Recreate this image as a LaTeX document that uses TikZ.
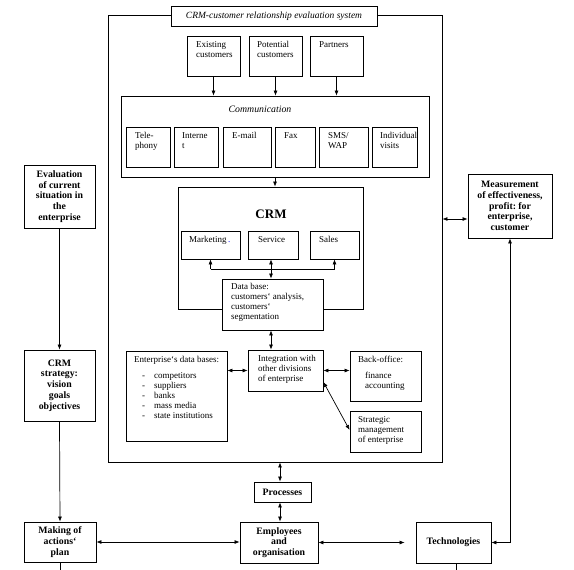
\documentclass[tikz,border=0pt]{standalone}
\usepackage{fontspec}
\setmainfont{Liberation Serif}
\usetikzlibrary{arrows.meta,fit,calc}
\frenchspacing
\begin{document}
\begin{tikzpicture}[x=1pt,y=-1pt,
  box/.style={draw, line width=0.8pt, inner sep=0pt, fill=white},
  cbox/.style n args={2}{draw, line width=0.8pt, inner sep=0pt, fill=white, minimum width=#1, minimum height=#2, anchor=center},
  txt/.style={inner sep=0pt, anchor=north west, align=left, font=\fontsize{9}{10}\selectfont},
  btxt/.style={align=center, font=\bfseries\fontsize{9.8}{10.8}\selectfont},
  arr/.style={line width=0.7pt, -{Latex[length=5pt,width=4pt]}},
  darr/.style={line width=0.7pt, {Latex[length=5pt,width=4pt]}-{Latex[length=5pt,width=4pt]}},
]
\useasboundingbox (0,0) rectangle (574,570);

% outer system box and title
\node[draw, line width=0.9pt, inner sep=0pt, fit={(108,15) (442,462)}] (outer) {};
\node[cbox={206pt}{20pt}, font=\itshape\fontsize{9.5}{11}\selectfont] (title) at (274,16) {CRM-customer relationship evaluation system};

% customers
\node[box, fit={(187,36) (240,76)}] (ex) {};
\node[txt] (ext) at (196,41) {Existing\\customers};
\node[box, fit={(249,36) (302,76)}] (pot) {};
\node[txt] (pott) at (257,41) {Potential\\customers};
\node[box, fit={(310,36) (363,76)}] (part) {};
\node[txt] (partt) at (319,41) {Partners};

% communication
\node[box, fit={(121,96) (429,177)}] (comm) {};
\node[font=\itshape\fontsize{9.8}{11}\selectfont] (commlbl) at (260,109) {Communication};
\node[box, fit={(126,127) (170,167)}] (tel) {};
\node[txt] (telt) at (135,132) {Tele-\\phony};
\node[box, fit={(174,127) (218,167)}] (inet) {};
\node[txt] (inett) at (182,132) {Interne\\t};
\node[box, fit={(223,127) (271,167)}] (mail) {};
\node[txt] (mailt) at (232,132) {E-mail};
\node[box, fit={(275,127) (315,167)}] (fax) {};
\node[txt] (faxt) at (284,132) {Fax};
\node[box, fit={(319,127) (368,167)}] (sms) {};
\node[txt] (smst) at (328,132) {SMS/\\WAP};
\node[box, fit={(372,127) (417,167)}] (vis) {};
\node[txt] (vist) at (380,132) {Individual\\visits};

% CRM
\node[box, fit={(178,187) (363,309)}] (crm) {};
\node[font=\bfseries\fontsize{13}{15}\selectfont] (crmlbl) at (271,214) {CRM};
\node[box, fit={(181,231) (240,259)}] (mkt) {};
\node[txt] (mktt) at (189,236) {Marketing\,\textcolor{blue}{.}};
\node[box, fit={(248,231) (298,259)}] (serv) {};
\node[txt] (servt) at (258,236) {Service};
\node[box, fit={(310,231) (359,259)}] (sales) {};
\node[txt] (salest) at (319,236) {Sales};
\node[box, fit={(222,279) (323,330)}] (db) {};
\node[txt] (dbt) at (231,283) {Data base:\\customers‘ analysis,\\customers‘\\segmentation};

% lower inner boxes
\node[box, fit={(126,351) (227,441)}] (entdb) {};
\node[txt] (entdbt) at (134,356) {Enterprise‘s data bases:};
\node[txt] (entdbl) at (142,371) {\begin{tabular}{@{}l@{\hspace{9pt}}l@{}}
-&competitors\\ -&suppliers\\ -&banks\\ -&mass media\\ -&state institutions\end{tabular}};
\node[box, fit={(248,350) (323,391)}] (integ) {};
\node[txt] (integt) at (258,355) {Integration with\\other divisions\\of enterprise};
\node[box, fit={(350,351) (421,401)}] (back) {};
\node[txt] (backt) at (358,356) {Back-office:};
\node[txt] (backl) at (365,372) {finance\\accounting};
\node[box, fit={(350,411) (421,452)}] (strat) {};
\node[txt] (stratt) at (358,416) {Strategic\\management\\of enterprise};

% outside boxes
\node[cbox={71pt}{63pt}, btxt] (eval) at (59.5,196.5) {Evaluation\\of current\\situation in\\the\\enterprise};
\node[cbox={71pt}{71pt}, btxt] (cstrat) at (59.5,385.5) {CRM\\strategy:\\vision\\goals\\objectives};
\node[cbox={84pt}{64pt}, btxt] (meas) at (510,206) {Measurement\\of effectiveness,\\profit: for\\enterprise,\\customer};
\node[cbox={57pt}{20pt}, btxt] (proc) at (282.5,492) {Processes};
\node[cbox={72pt}{40pt}, btxt] (making) at (60,542) {Making of\\actions‘\\plan};
\node[cbox={78pt}{41pt}, btxt] (emp) at (279,542.5) {Employees\\and\\organisation};
\node[cbox={75pt}{41pt}, btxt] (tech) at (453.5,542.5) {Technologies};

% connectors
\draw[arr] (ex.south) -- (ex.south |- comm.north);
\draw[arr] (pot.south) -- (pot.south |- comm.north);
\draw[arr] (part.south) -- (part.south |- comm.north);
\draw[arr] (comm.south) -- (comm.south |- crm.north);

\coordinate (jn) at (271,269);
\draw[darr] (db.north -| jn) -- (serv.south -| jn);
\draw[line width=0.7pt] (jn -| mkt.south) -- (jn -| sales.south);
\draw[arr] (jn -| mkt.south) -- (mkt.south);
\draw[arr] (jn -| sales.south) -- (sales.south);

\draw[darr] (db.south -| jn) -- (integ.north -| jn);
\draw[darr] (integ.west -| entdb.east) -- (integ.west);
\draw[darr] (integ.east) -- (integ.east -| back.west);
\draw[darr] (integ.east |- 0,382) -- (strat.west |- 0,430);

\draw[darr] (outer.south -| 280,0) -- (proc.north -| 280,0);
\draw[darr] (proc.south -| 280,0) -- (emp.north -| 280,0);
\draw[darr] (making.east) -- (making.east -| emp.west);
\draw[darr, shorten >=11pt] (emp.east) -- (emp.east -| tech.west);
\draw[darr] (tech.east) -| (meas.south);
\draw[darr] (outer.east |- 0,219) -- (meas.west |- 0,219);

\draw[arr] (eval.south) -- (cstrat.north);
\draw[arr] (cstrat.south) -- (making.north);

\coordinate (mkbot) at (60,570);
\coordinate (tcbot) at (456,570);
\draw[line width=0.7pt] (making.south -| mkbot) -- (mkbot);
\draw[line width=0.7pt] (tech.south -| tcbot) -- (tcbot);
\end{tikzpicture}
\end{document}
